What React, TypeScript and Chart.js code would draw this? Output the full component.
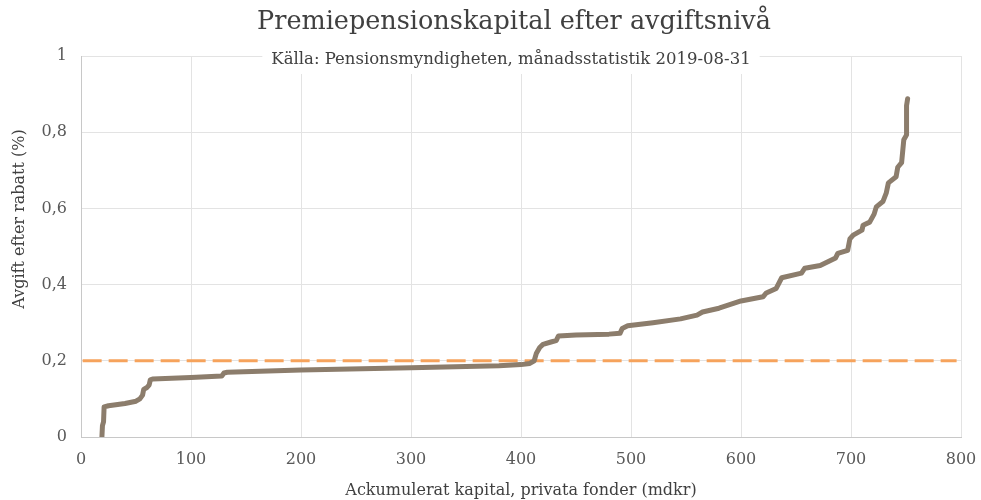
import React, { useEffect, useRef } from "react";
import { Chart, registerables } from "chart.js";

Chart.register(...registerables);

const chartTitle = "Premiepensionskapital efter avgiftsnivå";
const chartSubtitle = "Källa: Pensionsmyndigheten, månadsstatistik 2019-08-31";
const xAxisTitle = "Ackumulerat kapital, privata fonder (mdkr)";
const yAxisTitle = "Avgift efter rabatt (%)";

const capital = [
  19, 19.5, 20.5, 21, 25, 40, 50, 53.5, 56, 57, 60, 62, 63, 65, 100, 128, 130, 133,
  200, 300, 380, 400, 408, 412, 414, 417, 420, 428, 432, 434, 450, 480, 490, 492,
  497, 520, 545, 560, 565, 580, 600, 620, 623, 632, 637, 655, 658, 672, 686, 688,
  697, 699, 702, 710, 711, 717, 721, 723, 729, 732, 734, 741, 742.5, 746, 748,
  750.5, 750.5, 751.5,
];
const fee = [
  0, 0.03, 0.04, 0.079, 0.082, 0.088, 0.094, 0.1, 0.11, 0.125, 0.13, 0.137, 0.15,
  0.152, 0.156, 0.16, 0.168, 0.17, 0.176, 0.182, 0.187, 0.19, 0.193, 0.2, 0.22,
  0.235, 0.243, 0.25, 0.253, 0.265, 0.268, 0.27, 0.272, 0.285, 0.292, 0.3, 0.31,
  0.32, 0.328, 0.338, 0.357, 0.368, 0.378, 0.39, 0.418, 0.43, 0.443, 0.45, 0.47,
  0.482, 0.49, 0.52, 0.53, 0.543, 0.556, 0.564, 0.585, 0.604, 0.618, 0.64, 0.667,
  0.683, 0.708, 0.72, 0.78, 0.793, 0.87, 0.888,
];

const refLineX = [1.5, 796];
const refLineY = [0.2, 0.2];

const yTickValues = [0, 0.2, 0.4, 0.6, 0.8, 1];
const yTickLabels = ["0", "0,2", "0,4", "0,6", "0,8", "1"];
const xTickLabels = ["0", "100", "200", "300", "400", "500", "600", "700", "800"];

const FONT = "'DejaVu Serif', Georgia, serif";

const titlePlugin = {
  id: "customTitles",
  afterDraw(chart: any) {
    const ctx = chart.ctx;
    ctx.save();
    ctx.textAlign = "center";
    ctx.textBaseline = "middle";
    // main title
    ctx.fillStyle = "#404040";
    ctx.font = `25.5px ${FONT}`;
    ctx.fillText(chartTitle, 514, 22);
    // subtitle box over top grid line
    ctx.font = `16.5px ${FONT}`;
    const w = ctx.measureText(chartSubtitle).width;
    ctx.fillStyle = "#ffffff";
    ctx.fillRect(511 - w / 2 - 9, 46, w + 18, 28);
    ctx.fillStyle = "#404040";
    ctx.fillText(chartSubtitle, 511, 60);
    // y axis title
    ctx.font = `16px ${FONT}`;
    ctx.translate(20, 219);
    ctx.rotate(-Math.PI / 2);
    ctx.fillStyle = "#404040";
    ctx.fillText(yAxisTitle, 0, 0);
    ctx.restore();
  },
};

export default function App() {
  const ref = useRef<HTMLCanvasElement>(null);
  useEffect(() => {
    if (!ref.current) return;
    const chart = new Chart(ref.current, {
      type: "scatter",
      data: {
        datasets: [
          {
            label: "Avgift",
            data: capital.map((x, i) => ({ x, y: fee[i] })),
            showLine: true,
            borderColor: "#8c7d6c",
            borderWidth: 5,
            pointRadius: 0,
            borderCapStyle: "round",
            borderJoinStyle: "round",
            tension: 0,
            order: 1,
          },
          {
            label: "0,2",
            data: refLineX.map((x, i) => ({ x, y: refLineY[i] })),
            showLine: true,
            borderColor: "#f6a35c",
            borderWidth: 3,
            borderDash: [19, 7],
            pointRadius: 0,
            order: 2,
          },
        ],
      },
      options: {
        animation: false,
        responsive: false,
        layout: { padding: { left: 0, right: 20, top: 56, bottom: 0 } },
        plugins: {
          legend: { display: false },
          tooltip: { enabled: false },
          title: { display: false },
        },
        scales: {
          x: {
            type: "linear",
            min: 0,
            max: 800,
            afterFit: (s: any) => {
              s.height = 63;
              s.paddingLeft = 0;
              s.paddingRight = 0;
            },
            afterBuildTicks: (s: any) => {
              s.ticks = xTickLabels.map((t) => ({ value: Number(t) }));
            },
            ticks: {
              font: { family: FONT, size: 16 },
              color: "#595959",
              padding: 13,
              callback: (v: any, i: number) => xTickLabels[i],
            },
            grid: { color: "#e3e3e3", lineWidth: 1, drawTicks: false },
            border: { color: "#c8c8c8" },
            title: {
              display: true,
              text: xAxisTitle,
              font: { family: FONT, size: 16 },
              color: "#404040",
              padding: { top: 0, bottom: 0 },
            },
          },
          y: {
            type: "linear",
            min: 0,
            max: 1,
            afterFit: (s: any) => {
              s.width = 81;
            },
            afterBuildTicks: (s: any) => {
              s.ticks = yTickValues.map((v) => ({ value: v }));
            },
            ticks: {
              font: { family: FONT, size: 16 },
              color: "#595959",
              padding: 14,
              callback: (v: any, i: number) => yTickLabels[i],
            },
            grid: { color: "#e3e3e3", lineWidth: 1, drawTicks: false },
            border: { color: "#c8c8c8" },
            title: { display: false },
          },
        },
      },
      plugins: [titlePlugin],
    } as any);
    return () => chart.destroy();
  }, []);
  return (
    <div style={{ position: "fixed", left: 0, top: 0, width: 981, height: 500, background: "#fff" }}>
      <canvas ref={ref} width={981} height={500} style={{ display: "block" }} />
    </div>
  );
}
